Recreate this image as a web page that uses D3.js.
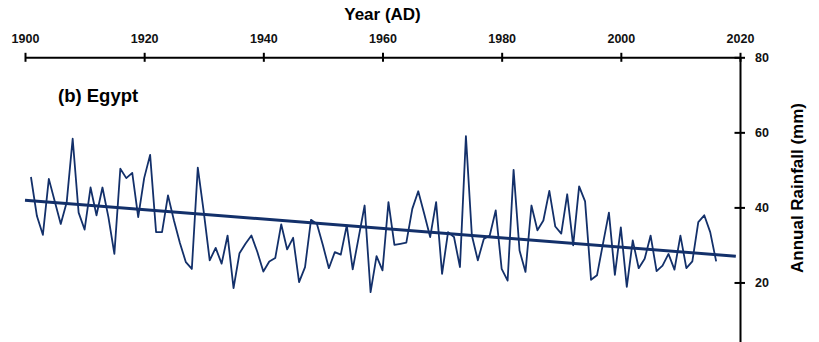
<!DOCTYPE html>
<html>
<head>
<meta charset="utf-8">
<script src="https://cdn.jsdelivr.net/npm/d3@7"></script>
<style>
  body { margin: 0; background: #fff; }
  svg { display: block; }
  .axis text { font-family: "Liberation Sans", Arial, sans-serif; font-weight: bold; font-size: 12.5px; fill: #111; }
  .axis path, .axis line { stroke: #000; stroke-width: 2px; }
</style>
</head>
<body>
<script>
// Egypt annual rainfall (mm), 1901-2016
var years = d3.range(1901, 2017);
var rainfall = [
  48.1, 37.7, 32.7, 47.6, 41.6, 35.6, 41.4, 58.3, 38.6, 34.1,
  45.3, 37.9, 45.3, 37.4, 27.6, 50.3, 47.8, 49.2, 37.4, 47.8,
  54.0, 33.4, 33.4, 43.2, 36.5, 30.5, 25.4, 23.6, 50.6, 38.8,
  25.9, 29.2, 25.0, 32.5, 18.5, 27.8, 30.3, 32.5, 28.1, 22.9,
  25.6, 26.5, 35.5, 28.8, 31.9, 20.1, 24.1, 36.7, 35.6, 29.9,
  23.8, 28.1, 27.4, 35.2, 23.5, 32.0, 40.5, 17.4, 27.0, 23.2,
  41.4, 30.0, 30.3, 30.6, 39.6, 44.3, 38.3, 32.1, 41.4, 22.3,
  33.4, 32.1, 24.1, 59.0, 32.5, 25.9, 31.6, 32.5, 39.2, 23.6,
  20.5, 50.0, 28.5, 22.8, 40.5, 33.9, 36.5, 44.4, 34.9, 33.0,
  43.5, 29.9, 45.6, 41.6, 20.7, 21.9, 30.3, 38.6, 22.0, 34.7,
  18.8, 31.2, 23.8, 26.3, 32.5, 23.0, 24.5, 27.6, 23.4, 32.5,
  23.8, 25.6, 36.1, 37.9, 33.4, 25.6
];
// linear trend, end points
var trendYears = [1900, 2019.3];
var trendValues = [41.9, 27.0];

var xTicks = [1900, 1920, 1940, 1960, 1980, 2000, 2020];
var yTicks = [20, 40, 60, 80];

var width = 819, height = 342;
var lineColor = "#13306a";

var svg = d3.select("body").append("svg")
    .attr("width", width)
    .attr("height", height);

var x = d3.scaleLinear().domain([1900, 2020]).range([25, 740]);
var y = d3.scaleLinear().domain([0, 80]).range([357.5, 57.3]);

// top x axis with ticks crossing the line
var topAxis = d3.axisTop(x).tickValues(xTicks).tickFormat(d3.format("d"))
    .tickSizeInner(4.5).tickSizeOuter(0).tickPadding(10);
var gx = svg.append("g")
    .attr("class", "axis")
    .attr("transform", "translate(0," + y(80) + ")")
    .call(topAxis);
gx.selectAll(".tick line").attr("y1", 4.5);

// right y axis
var rightAxis = d3.axisRight(y).tickValues(yTicks)
    .tickSizeInner(5).tickSizeOuter(0).tickPadding(10);
var gy = svg.append("g")
    .attr("class", "axis")
    .attr("transform", "translate(" + x(2020) + ",0)")
    .call(rightAxis);
gy.selectAll(".tick line").attr("x1", -5.5);

// rainfall series
var line = d3.line()
    .x((d, i) => x(years[i]))
    .y((d) => y(d));

svg.append("path")
    .datum(rainfall)
    .attr("fill", "none")
    .attr("stroke", lineColor)
    .attr("stroke-width", 1.8)
    .attr("stroke-linejoin", "round")
    .attr("d", line);

// trend line
svg.append("line")
    .attr("x1", x(trendYears[0]))
    .attr("y1", y(trendValues[0]))
    .attr("x2", x(trendYears[1]))
    .attr("y2", y(trendValues[1]))
    .attr("stroke", lineColor)
    .attr("stroke-width", 3);

// titles
svg.append("text")
    .attr("x", x(1960))
    .attr("y", 20)
    .attr("text-anchor", "middle")
    .style("font-family", "Liberation Sans, Arial, sans-serif")
    .style("font-weight", "bold")
    .style("font-size", "17px")
    .text("Year (AD)");

svg.append("text")
    .attr("transform", "translate(803,188) rotate(-90)")
    .attr("text-anchor", "middle")
    .style("font-family", "Liberation Sans, Arial, sans-serif")
    .style("font-weight", "bold")
    .style("font-size", "17px")
    .text("Annual Rainfall (mm)");

svg.append("text")
    .attr("x", 58)
    .attr("y", 102)
    .style("font-family", "Liberation Sans, Arial, sans-serif")
    .style("font-weight", "bold")
    .style("font-size", "18.5px")
    .text("(b) Egypt");
</script>
</body>
</html>
